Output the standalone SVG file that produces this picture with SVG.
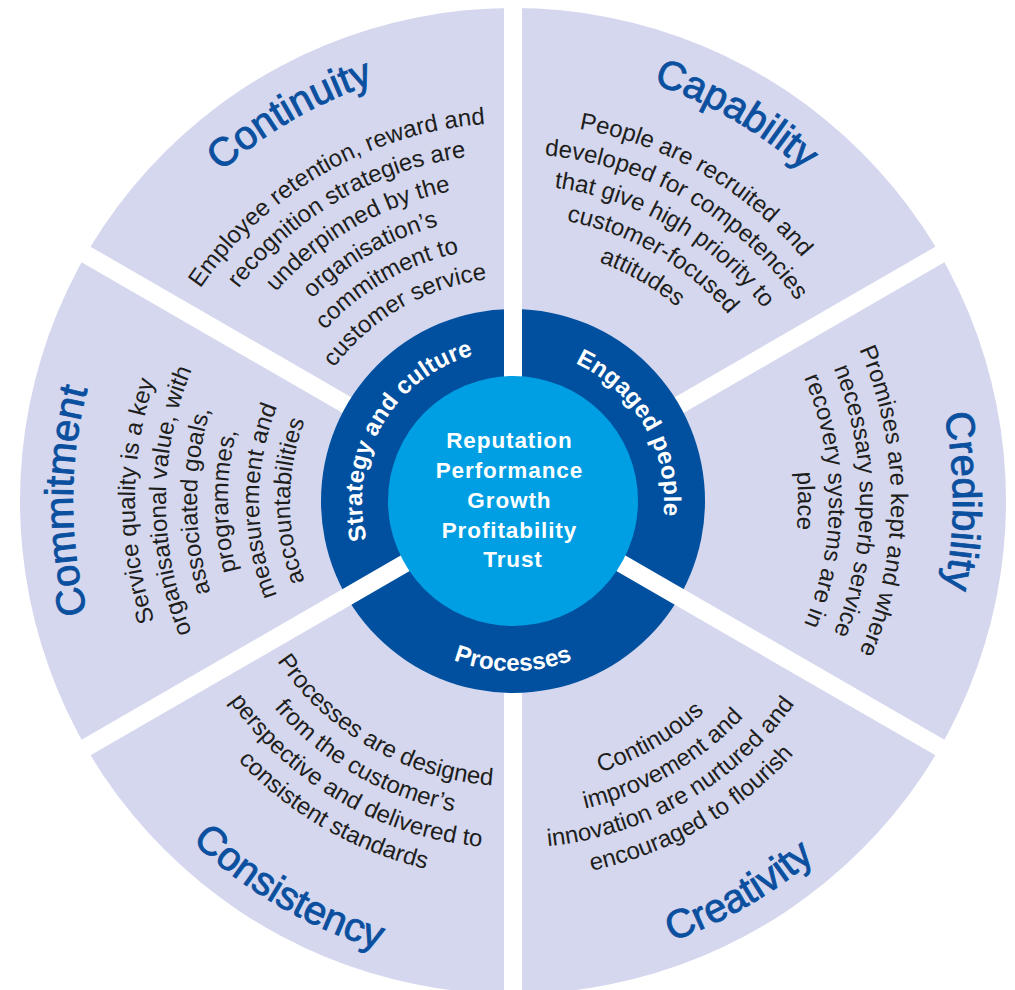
<svg xmlns="http://www.w3.org/2000/svg" xmlns:xlink="http://www.w3.org/1999/xlink" width="1015" height="990" viewBox="0 0 1015 990">
<style>
.title{font-family:"Liberation Sans",Arial,sans-serif;font-size:40px;fill:#0B4F9F;stroke:#0B4F9F;stroke-width:0.9px}
.body{font-family:"Liberation Sans",Arial,sans-serif;font-size:24px;fill:#1E1E1C}
.ring{font-family:"Liberation Sans",Arial,sans-serif;font-size:24px;font-weight:bold;fill:#FFFFFF;letter-spacing:0.2px}
.core{font-family:"Liberation Sans",Arial,sans-serif;font-size:22.5px;font-weight:bold;fill:#FFFFFF;letter-spacing:0.9px}
.gap{stroke:#FFFFFF;stroke-width:18;stroke-linecap:butt;fill:none}
</style>
<defs>
<path id="t440" d="M 74.67 462.63 A 440 440 0 0 1 951.33 462.63"/>
<path id="t378" d="M 136.44 468.04 A 378 378 0 0 1 889.56 468.04"/>
<path id="t347" d="M 167.32 470.74 A 347 347 0 0 1 858.68 470.74"/>
<path id="t316" d="M 198.20 473.44 A 316 316 0 0 1 827.80 473.44"/>
<path id="t285" d="M 229.08 476.15 A 285 285 0 0 1 796.92 476.15"/>
<path id="t254" d="M 259.97 478.85 A 254 254 0 0 1 766.03 478.85"/>
<path id="t223" d="M 290.85 481.55 A 223 223 0 0 1 735.15 481.55"/>
<path id="t151" d="M 362.57 487.83 A 151 151 0 0 1 663.43 487.83"/>
<path id="b468" d="M 46.78 541.81 A 468 468 0 0 0 979.22 541.81"/>
<path id="b378" d="M 136.44 533.96 A 378 378 0 0 0 889.56 533.96"/>
<path id="b347" d="M 167.32 531.26 A 347 347 0 0 0 858.68 531.26"/>
<path id="b316" d="M 198.20 528.56 A 316 316 0 0 0 827.80 528.56"/>
<path id="b285" d="M 229.08 525.85 A 285 285 0 0 0 796.92 525.85"/>
<path id="b170" d="M 343.65 515.82 A 170 170 0 0 0 682.35 515.82"/>
</defs>

<g id="wheel">
<circle cx="513" cy="501" r="493" fill="#D4D7EE"/>
<line class="gap" x1="513" y1="501" x2="946" y2="251"/>
<line class="gap" x1="513" y1="501" x2="80" y2="251"/>
<line class="gap" x1="513" y1="501" x2="513" y2="1001"/>
<circle cx="513" cy="501" r="192" fill="#00509F"/>
</g>

<g id="connectors">
<line class="gap" x1="513" y1="501" x2="513" y2="0"/>
<line class="gap" x1="513" y1="501" x2="946" y2="751"/>
<line class="gap" x1="513" y1="501" x2="80" y2="751"/>
</g>

<g id="core">
<circle cx="513" cy="501" r="125" fill="#009FE3"/>
<text class="core" text-anchor="middle">
<tspan x="513" y="448">Reputation</tspan>
<tspan x="513" y="478">Performance</tspan>
<tspan x="513" y="507.5">Growth</tspan>
<tspan x="513" y="537.5">Profitability</tspan>
<tspan x="513" y="567">Trust</tspan>
</text>
</g>

<g id="strategy-and-culture" transform="rotate(-60 513 501)">
<text class="ring" text-anchor="middle"><textPath xlink:href="#t151" href="#t151" startOffset="50%">Strategy and culture</textPath></text>
</g>
<g id="engaged-people" transform="rotate(60 513 501)">
<text class="ring" text-anchor="middle"><textPath xlink:href="#t151" href="#t151" startOffset="50%">Engaged people</textPath></text>
</g>
<g id="processes">
<text class="ring" text-anchor="middle"><textPath xlink:href="#b170" href="#b170" startOffset="50%">Processes</textPath></text>
</g>

<g id="continuity" transform="rotate(-30 513 501)">
<text class="title" text-anchor="middle"><textPath xlink:href="#t440" href="#t440" startOffset="50%">Continuity</textPath></text>
<text class="body" text-anchor="middle"><textPath xlink:href="#t378" href="#t378" startOffset="50%">Employee retention, reward and</textPath></text>
<text class="body" text-anchor="middle"><textPath xlink:href="#t347" href="#t347" startOffset="50%">recognition strategies are</textPath></text>
<text class="body" text-anchor="middle"><textPath xlink:href="#t316" href="#t316" startOffset="50%">underpinned by the</textPath></text>
<text class="body" text-anchor="middle"><textPath xlink:href="#t285" href="#t285" startOffset="50%">organisation’s</textPath></text>
<text class="body" text-anchor="middle"><textPath xlink:href="#t254" href="#t254" startOffset="50%">commitment to</textPath></text>
<text class="body" text-anchor="middle"><textPath xlink:href="#t223" href="#t223" startOffset="50%">customer service</textPath></text>
</g>

<g id="capability" transform="rotate(30 513 501)">
<text class="title" text-anchor="middle"><textPath xlink:href="#t440" href="#t440" startOffset="50%">Capability</textPath></text>
<text class="body" text-anchor="middle"><textPath xlink:href="#t378" href="#t378" startOffset="50%">People are recruited and</textPath></text>
<text class="body" text-anchor="middle"><textPath xlink:href="#t347" href="#t347" startOffset="50%">developed for competencies</textPath></text>
<text class="body" text-anchor="middle"><textPath xlink:href="#t316" href="#t316" startOffset="50%">that give high priority to</textPath></text>
<text class="body" text-anchor="middle"><textPath xlink:href="#t285" href="#t285" startOffset="50%">customer-focused</textPath></text>
<text class="body" text-anchor="middle"><textPath xlink:href="#t254" href="#t254" startOffset="50%">attitudes</textPath></text>
</g>

<g id="credibility" transform="rotate(90 513 501)">
<text class="title" text-anchor="middle"><textPath xlink:href="#t440" href="#t440" startOffset="50%">Credibility</textPath></text>
<text class="body" text-anchor="middle"><textPath xlink:href="#t378" href="#t378" startOffset="50%">Promises are kept and where</textPath></text>
<text class="body" text-anchor="middle"><textPath xlink:href="#t347" href="#t347" startOffset="50%">necessary superb service</textPath></text>
<text class="body" text-anchor="middle"><textPath xlink:href="#t316" href="#t316" startOffset="50%">recovery systems are in</textPath></text>
<text class="body" text-anchor="middle"><textPath xlink:href="#t285" href="#t285" startOffset="50%">place</textPath></text>
</g>

<g id="creativity" transform="rotate(-30 513 501)">
<text class="title" text-anchor="middle"><textPath xlink:href="#b468" href="#b468" startOffset="50%">Creativity</textPath></text>
<text class="body" text-anchor="middle"><textPath xlink:href="#b285" href="#b285" startOffset="50%">Continuous</textPath></text>
<text class="body" text-anchor="middle"><textPath xlink:href="#b316" href="#b316" startOffset="50%">improvement and</textPath></text>
<text class="body" text-anchor="middle"><textPath xlink:href="#b347" href="#b347" startOffset="50%">innovation are nurtured and</textPath></text>
<text class="body" text-anchor="middle"><textPath xlink:href="#b378" href="#b378" startOffset="50%">encouraged to flourish</textPath></text>
</g>

<g id="consistency" transform="rotate(30 513 501)">
<text class="title" text-anchor="middle"><textPath xlink:href="#b468" href="#b468" startOffset="50%">Consistency</textPath></text>
<text class="body" text-anchor="middle"><textPath xlink:href="#b285" href="#b285" startOffset="50%">Processes are designed</textPath></text>
<text class="body" text-anchor="middle"><textPath xlink:href="#b316" href="#b316" startOffset="50%">from the customer’s</textPath></text>
<text class="body" text-anchor="middle"><textPath xlink:href="#b347" href="#b347" startOffset="50%">perspective and delivered to</textPath></text>
<text class="body" text-anchor="middle"><textPath xlink:href="#b378" href="#b378" startOffset="50%">consistent standards</textPath></text>
</g>

<g id="commitment" transform="rotate(-90 513 501)">
<text class="title" text-anchor="middle"><textPath xlink:href="#t440" href="#t440" startOffset="50%">Commitment</textPath></text>
<text class="body" text-anchor="middle"><textPath xlink:href="#t378" href="#t378" startOffset="50%">Service quality is a key</textPath></text>
<text class="body" text-anchor="middle"><textPath xlink:href="#t347" href="#t347" startOffset="50%">organisational value, with</textPath></text>
<text class="body" text-anchor="middle"><textPath xlink:href="#t316" href="#t316" startOffset="50%">associated goals,</textPath></text>
<text class="body" text-anchor="middle"><textPath xlink:href="#t285" href="#t285" startOffset="50%">programmes,</textPath></text>
<text class="body" text-anchor="middle"><textPath xlink:href="#t254" href="#t254" startOffset="50%">measurement and</textPath></text>
<text class="body" text-anchor="middle"><textPath xlink:href="#t223" href="#t223" startOffset="50%">accountabilities</textPath></text>
</g>
</svg>
